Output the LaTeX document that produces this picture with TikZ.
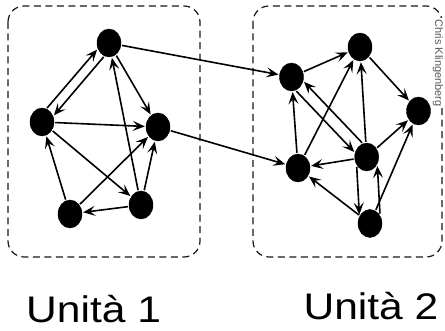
\documentclass[tikz,border=0pt]{standalone}
\usepackage{fontspec}
\setmainfont{Liberation Sans}
\usetikzlibrary{arrows.meta,shapes.geometric}
\begin{document}
\begin{tikzpicture}[x=1pt,y=1pt,
  vertex/.style={ellipse,fill=black,draw=black,line width=0.4pt,inner sep=0pt,
    minimum width=24pt,minimum height=28pt,outer sep=1.2pt},
  link/.style={line width=1.6pt,-{Stealth[length=12pt,width=10pt,inset=5pt]}},
  unitbox/.style={draw=black!90,line width=1.2pt,dash pattern=on 7pt off 4.5pt,rounded corners=16pt},
  unitlabel/.style={anchor=base west,inner sep=0pt,text depth=0pt,font=\fontsize{37}{40}\selectfont,xscale=1.15},
  credit/.style={rotate=-90,font=\fontsize{11}{12}\selectfont,text=black!65,fill=white,inner sep=1pt}]
\useasboundingbox (0,0) rectangle (445,-331);

% dashed frames of the two units
\draw[unitbox] (8,-6) rectangle (200,-257);
\draw[unitbox] (253,-6) rectangle (442,-257);
\node[credit] (credit) at (438,-63) {Chris Klingenberg};

% unit 1
\node[vertex] (a) at (109,-43) {};
\node[vertex] (b) at (42,-122) {};
\node[vertex] (c) at (158,-127) {};
\node[vertex] (d) at (70,-214) {};
\node[vertex] (e) at (141,-205) {};

% unit 2
\node[vertex] (f) at (291.5,-77) {};
\node[vertex] (g) at (360,-47) {};
\node[vertex] (h) at (418.5,-111) {};
\node[vertex] (i) at (298,-168) {};
\node[vertex] (j) at (366.7,-157) {};
\node[vertex] (k) at (370,-223.5) {};

% links inside unit 1
\draw[link] (b.70) -- (a.209.7);
\draw[link] (a.249.7) -- (b.29.7);
\draw[link] (a) -- (c);
\draw[link] (b) -- (c);
\draw[link] (b) -- (e);
\draw[link] (e) -- (a);
\draw[link] (d) -- (b);
\draw[link] (d) -- (c);
\draw[link] (e) -- (c);
\draw[link] (e) -- (d);

% links between the units
\draw[link] (a) -- (f);
\draw[link] (c) -- (i);

% links inside unit 2
\draw[link] (f) -- (g);
\draw[link] (i) -- (f);
\draw[link] (i) -- (g);
\draw[link] (f.-71.8) -- (j.158.2);
\draw[link] (j.108.2) -- (f.-21.8);
\draw[link] (j) -- (g);
\draw[link] (g) -- (h);
\draw[link] (j) -- (h);
\draw[link] (j) -- (i);
\draw[link] (j.-135) -- (k.140);
\draw[link] (k.45) -- (j.-40);
\draw[link] (k) -- (i);
\draw[link] (k) -- (h);

% unit captions
\node[unitlabel] (u1) at (26,-323) {Unità 1};
\node[unitlabel] (u2) at (303.3,-320) {Unità 2};
\end{tikzpicture}
\end{document}
